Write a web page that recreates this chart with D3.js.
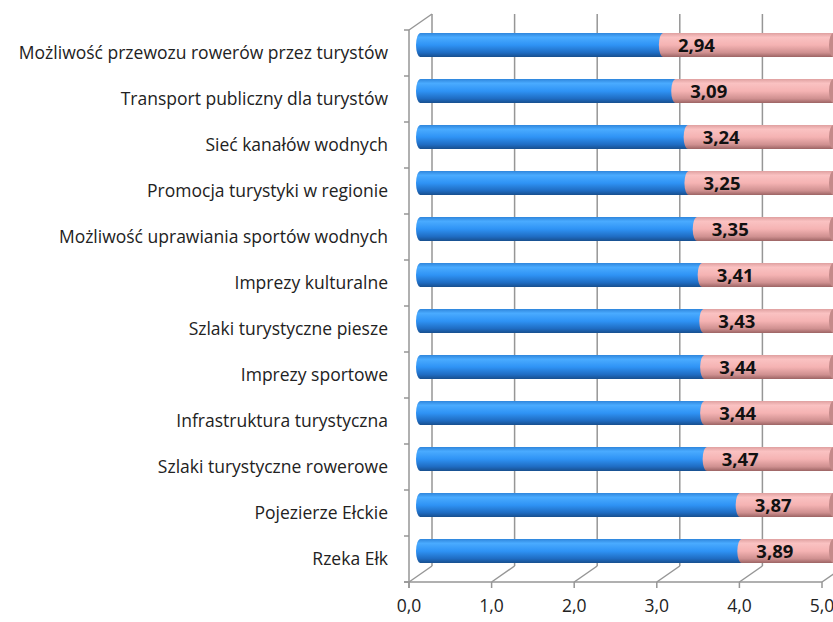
<!DOCTYPE html>
<html>
<head>
<meta charset="utf-8">
<script src="https://cdn.jsdelivr.net/npm/d3@7"></script>
<style>
  body { margin: 0; background: #fff; }
  svg { display: block; font-family: "Open Sans", Lato, sans-serif; }
</style>
</head>
<body>
<svg id="chart" width="833" height="622"></svg>
<script>
// data, top bar first
const categories = [
  "Możliwość przewozu rowerów przez turystów",
  "Transport publiczny dla turystów",
  "Sieć kanałów wodnych",
  "Promocja turystyki w regionie",
  "Możliwość uprawiania sportów wodnych",
  "Imprezy kulturalne",
  "Szlaki turystyczne piesze",
  "Imprezy sportowe",
  "Infrastruktura turystyczna",
  "Szlaki turystyczne rowerowe",
  "Pojezierze Ełckie",
  "Rzeka Ełk"
]
const values = [2.94, 3.09, 3.24, 3.25, 3.35, 3.41, 3.43, 3.44, 3.44, 3.47, 3.87, 3.89]
const maxScore = 5
const ticks = [0, 1, 2, 3, 4, 5]

const svg = d3.select("#chart")

// front plane scales, depth gives the fake 3d
const x = d3.scaleLinear().domain([0, 5]).range([409, 822])
const y = d3.scaleBand().domain(categories).range([30, 582])
const depth = { dx: 23, dy: -16 }
const mid = { dx: depth.dx / 2, dy: depth.dy / 2 }
const fmt = v => d3.format(".1f")(v).replace(".", ",")
const fmt2 = v => d3.format(".2f")(v).replace(".", ",")

const defs = svg.append("defs")
function grad(id, stops) {
  const g = defs.append("linearGradient").attr("id", id)
    .attr("x1", 0).attr("y1", 0).attr("x2", 0).attr("y2", 1)
  stops.forEach(s => g.append("stop").attr("offset", s[0]).attr("stop-color", s[1]))
}
grad("blue", [[0, "#2f86dc"], [0.18, "#4aabff"], [0.5, "#2f93f5"], [0.82, "#1f6cc2"], [1, "#184f8e"]])
grad("pink", [[0, "#dfa0a0"], [0.18, "#fac2c2"], [0.5, "#f5b3b3"], [0.82, "#cf9090"], [1, "#9c6464"]])

const grid = "#969696"
const g = svg.append("g")

// back gridlines
g.selectAll("line.grid").data(ticks).join("line")
  .attr("x1", d => x(d) + depth.dx).attr("x2", d => x(d) + depth.dx)
  .attr("y1", y.range()[0] + depth.dy).attr("y2", y.range()[1] + depth.dy)
  .attr("stroke", grid).attr("stroke-width", 1.5)

// floor diagonals
g.selectAll("line.floor").data(ticks).join("line")
  .attr("x1", d => x(d)).attr("y1", y.range()[1])
  .attr("x2", d => x(d) + depth.dx).attr("y2", y.range()[1] + depth.dy)
  .attr("stroke", grid).attr("stroke-width", 1.5)

// left wall top edge
g.append("line")
  .attr("x1", x(0)).attr("y1", y.range()[0])
  .attr("x2", x(0) + depth.dx).attr("y2", y.range()[0] + depth.dy)
  .attr("stroke", grid).attr("stroke-width", 1.5)

// front axes
g.append("line").attr("x1", x(0)).attr("x2", x(0))
  .attr("y1", y.range()[0]).attr("y2", y.range()[1] + 6)
  .attr("stroke", grid).attr("stroke-width", 1.5)
g.append("line").attr("x1", x(0) - 5).attr("x2", x(5))
  .attr("y1", y.range()[1]).attr("y2", y.range()[1])
  .attr("stroke", grid).attr("stroke-width", 1.5)

const bounds = categories.map(c => y(c)).concat([y.range()[1]])
g.selectAll("line.ytick").data(bounds).join("line")
  .attr("x1", x(0) - 5).attr("x2", x(0))
  .attr("y1", d => d).attr("y2", d => d)
  .attr("stroke", grid).attr("stroke-width", 1.5)
g.selectAll("line.xtick").data(ticks).join("line")
  .attr("x1", d => x(d)).attr("x2", d => x(d))
  .attr("y1", y.range()[1]).attr("y2", y.range()[1] + 6)
  .attr("stroke", grid).attr("stroke-width", 1.5)

// tick labels
g.selectAll("text.xl").data(ticks).join("text")
  .attr("x", d => x(d)).attr("y", 612)
  .attr("text-anchor", "middle").attr("font-size", 17.5).attr("fill", "#222")
  .text(fmt)

g.selectAll("text.yl").data(categories).join("text")
  .attr("x", 388).attr("y", d => y(d) + y.bandwidth() / 2)
  .attr("dy", "0.35em").attr("text-anchor", "end")
  .attr("font-size", 17.5).attr("fill", "#222")
  .text(d => d)

// cylinders
const barH = 24
const rx = 4.5
const bars = g.selectAll("g.bar").data(categories).join("g")
  .attr("transform", d => `translate(0,${y(d) + y.bandwidth() / 2 + mid.dy - barH / 2})`)

const x0 = x(0) + mid.dx
const x5 = x(maxScore) + mid.dx

bars.append("path") // blue part
  .attr("d", (d, i) => {
    const xv = x(values[i]) + mid.dx
    return `M${x0},0 L${xv},0 L${xv},${barH} L${x0},${barH} A${rx},${barH / 2} 0 0 1 ${x0},0 Z`
  })
  .attr("fill", "url(#blue)")

bars.append("path") // pink part
  .attr("d", (d, i) => {
    const xv = x(values[i]) + mid.dx
    return `M${xv},0 L${x5},0 L${x5},${barH} L${xv},${barH} A${rx},${barH / 2} 0 0 1 ${xv},0 Z`
  })
  .attr("fill", "url(#pink)")

bars.append("ellipse") // end cap
  .attr("cx", x5).attr("cy", barH / 2)
  .attr("rx", rx).attr("ry", barH / 2)
  .attr("fill", "#c48a8a")

bars.append("text")
  .attr("x", (d, i) => x(values[i] + 0.4) + mid.dx)
  .attr("y", barH / 2).attr("dy", "0.36em")
  .attr("text-anchor", "middle").attr("font-size", 18.5).attr("font-weight", "bold")
  .attr("fill", "#111")
  .text((d, i) => fmt2(values[i]))
</script>
</body>
</html>
